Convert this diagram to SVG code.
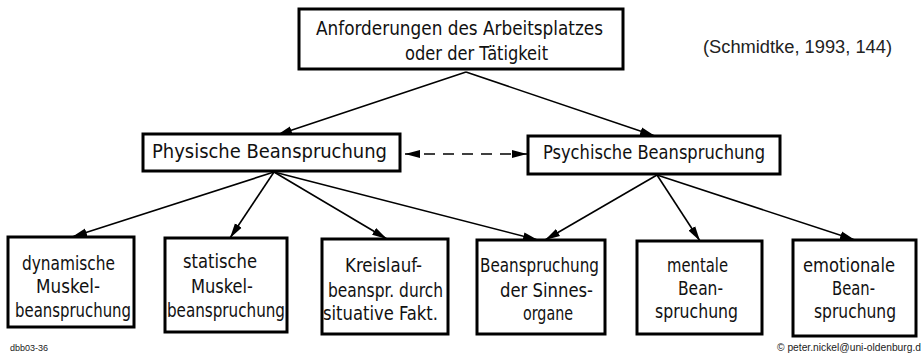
<svg xmlns="http://www.w3.org/2000/svg" width="921" height="356" viewBox="0 0 921 356">
<style>
.box{fill:#fff;stroke:#000;stroke-width:3}
.t{font-family:"DejaVu Sans Condensed","Liberation Sans Narrow","DejaVu Sans",sans-serif;font-stretch:condensed;font-size:20px;fill:#111}
.c{fill:none;stroke:#000;stroke-width:1.6}
.d{stroke-dasharray:11 8}
.s{font-family:"Liberation Sans",Arial,sans-serif;fill:#222}
</style>
<defs>
<marker id="ah" markerWidth="15" markerHeight="10" refX="15" refY="5" orient="auto-start-reverse" markerUnits="userSpaceOnUse">
<path d="M0,1 L15,5 L0,9 z" fill="#000"/>
</marker>
</defs>
<g id="connectors">
<path class="c" d="M466,72 L277,135" marker-end="url(#ah)"/>
<path class="c" d="M466,72 L655,136" marker-end="url(#ah)"/>
<path class="c d" d="M405,154 L527,154" marker-start="url(#ah)" marker-end="url(#ah)"/>
<path class="c" d="M274,172 L72,237" marker-end="url(#ah)"/>
<path class="c" d="M274,172 L230,238" marker-end="url(#ah)"/>
<path class="c" d="M274,172 L387,239" marker-end="url(#ah)"/>
<path class="c" d="M274,172 L538,240" marker-end="url(#ah)"/>
<path class="c" d="M657,175 L545,240" marker-end="url(#ah)"/>
<path class="c" d="M657,175 L700,241" marker-end="url(#ah)"/>
<path class="c" d="M657,175 L855,240" marker-end="url(#ah)"/>
</g>
<g id="n-top">
<rect class="box" x="299" y="9" width="324" height="60" stroke-width="2.5"/>
<text class="t" x="316" y="35" textLength="287" lengthAdjust="spacingAndGlyphs">Anforderungen des Arbeitsplatzes</text>
<text class="t" x="405" y="60" textLength="143" lengthAdjust="spacingAndGlyphs">oder der Tätigkeit</text>
</g>
<g id="n-physisch">
<rect class="box" x="143" y="134" width="257" height="37"/>
<text class="t" x="152" y="158" textLength="235" lengthAdjust="spacingAndGlyphs">Physische Beanspruchung</text>
</g>
<g id="n-psychisch">
<rect class="box" x="528" y="136" width="252" height="38"/>
<text class="t" x="543" y="159" textLength="222" lengthAdjust="spacingAndGlyphs">Psychische Beanspruchung</text>
</g>
<g id="n-dyn">
<rect class="box" x="8" y="237" width="126" height="90"/>
<text class="t" x="22" y="270" textLength="93" lengthAdjust="spacingAndGlyphs">dynamische</text>
<text class="t" x="36" y="293" textLength="64" lengthAdjust="spacingAndGlyphs">Muskel-</text>
<text class="t" x="15" y="317" textLength="116" lengthAdjust="spacingAndGlyphs">beanspruchung</text>
</g>
<g id="n-stat">
<rect class="box" x="165" y="238" width="122" height="94"/>
<text class="t" x="183" y="268" textLength="74" lengthAdjust="spacingAndGlyphs">statische</text>
<text class="t" x="191" y="293" textLength="62" lengthAdjust="spacingAndGlyphs">Muskel-</text>
<text class="t" x="167" y="317" textLength="118" lengthAdjust="spacingAndGlyphs">beanspruchung</text>
</g>
<g id="n-kreis">
<rect class="box" x="322" y="239" width="126" height="95"/>
<text class="t" x="345" y="272" textLength="77" lengthAdjust="spacingAndGlyphs">Kreislauf-</text>
<text class="t" x="328" y="297" textLength="115" lengthAdjust="spacingAndGlyphs">beanspr. durch</text>
<text class="t" x="323" y="320" textLength="115" lengthAdjust="spacingAndGlyphs">situative Fakt.</text>
</g>
<g id="n-sinne">
<rect class="box" x="477" y="240" width="128" height="94"/>
<text class="t" x="480" y="272" textLength="119" lengthAdjust="spacingAndGlyphs">Beanspruchung</text>
<text class="t" x="500" y="297" textLength="93" lengthAdjust="spacingAndGlyphs">der Sinnes-</text>
<text class="t" x="523" y="320" textLength="50" lengthAdjust="spacingAndGlyphs">organe</text>
</g>
<g id="n-mental">
<rect class="box" x="637" y="241" width="125" height="93"/>
<text class="t" x="667" y="272" textLength="61" lengthAdjust="spacingAndGlyphs">mentale</text>
<text class="t" x="678" y="295" textLength="45" lengthAdjust="spacingAndGlyphs">Bean-</text>
<text class="t" x="655" y="318" textLength="83" lengthAdjust="spacingAndGlyphs">spruchung</text>
</g>
<g id="n-emo">
<rect class="box" x="793" y="240" width="123" height="96"/>
<text class="t" x="803" y="272" textLength="92" lengthAdjust="spacingAndGlyphs">emotionale</text>
<text class="t" x="832" y="295" textLength="43" lengthAdjust="spacingAndGlyphs">Bean-</text>
<text class="t" x="814" y="318" textLength="82" lengthAdjust="spacingAndGlyphs">spruchung</text>
</g>
<text class="s" x="703" y="53" font-size="18" textLength="189" lengthAdjust="spacingAndGlyphs">(Schmidtke, 1993, 144)</text>
<text class="s" x="10" y="351" font-size="9">dbb03-36</text>
<text class="s" x="777" y="351" font-size="10" textLength="144" lengthAdjust="spacingAndGlyphs">© peter.nickel@uni-oldenburg.d</text>
</svg>
